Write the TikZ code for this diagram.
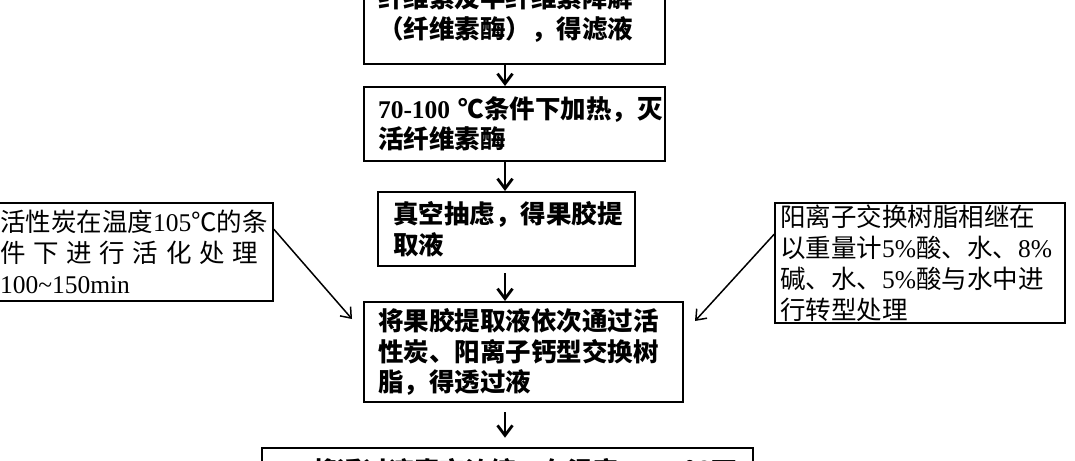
\documentclass[tikz,border=0pt]{standalone}
\usepackage{fontspec}
\setmainfont{Liberation Serif}
\newfontfamily\cjk{Noto Sans CJK SC}
\usetikzlibrary{arrows.meta}
\begin{document}
\begin{tikzpicture}[x=1pt,y=-1pt,
  mainbox/.style={draw, line width=2pt, font=\cjk\bfseries\fontsize{25.5}{30.5}\selectfont, align=left, inner ysep=0pt},
  sidebox/.style={draw, line width=1.6pt, font=\cjk\fontsize{25.5}{31}\selectfont, align=left, inner ysep=0pt},
  flow/.style={line width=2.8pt, -{Straight Barb[length=10pt,width=15pt,line width=2.8pt]}},
  feed/.style={line width=1.5pt, -{Straight Barb[length=9pt,width=14pt,line width=1.5pt]}}]
\useasboundingbox (0,0) rectangle (1075,460);
\clip (0,0) rectangle (1075,460);
\fill[white] (0,0) rectangle (1075,460);

\node[mainbox, minimum width=301pt, minimum height=100pt, inner xsep=14pt, text width=273pt] (b1) at (514.5,14)
  {\mbox{纤维素及半纤维素降解}\\\mbox{（纤维素酶），得滤液}};
\node[mainbox, minimum width=301pt, minimum height=74pt, inner xsep=14pt, text width=273pt] (b2) at (514.5,124)
  {\mbox{{\rmfamily 70-100} ℃条件下加热，灭}\\活纤维素酶};
\node[mainbox, minimum width=257pt, minimum height=74pt, inner xsep=15pt, text width=227pt] (b3) at (506.5,229)
  {\mbox{真空抽虑，得果胶提}\\取液};
\node[mainbox, minimum width=319pt, minimum height=100pt, inner xsep=14pt, text width=291pt] (b4) at (523.5,352)
  {\mbox{将果胶提取液依次通过活}\\\mbox{性炭、阳离子钙型交换树}\\\mbox{脂，得透过液}};
\node[mainbox, line width=2.6pt, minimum width=491pt, minimum height=46pt, inner xsep=50pt, text width=391pt] (b5) at (507.5,471)
  {\mbox{将透过液真空浓缩，在温度{\rmfamily 50-60} ℃下}};

\node[sidebox, minimum width=285pt, minimum height=98pt, inner xsep=12pt, text width=261pt] (L) at (130.5,252)
  {\mbox{活性炭在温度{\rmfamily 105}℃的条}\\
   \makebox[258pt][s]{件\hfill 下\hfill 进\hfill 行\hfill 活\hfill 化\hfill 处\hfill 理}\\
   {\rmfamily 100\textasciitilde150min}};
\node[sidebox, minimum width=290pt, minimum height=120pt, inner xsep=5pt, text width=280pt] (R) at (920,263)
  {\mbox{阳离子交换树脂相继在}\\\mbox{以重量计{\rmfamily 5\%}酸、水、{\rmfamily 8\%}}\\\mbox{碱、水、{\rmfamily 5\%}酸与水中进}\\行转型处理};

\coordinate (ax) at (505,0);
\draw[flow] (b1.south -| ax) -- (b2.north -| ax);
\draw[flow] (b2.south -| ax) -- (b3.north -| ax);
\draw[flow, shorten <=6pt] (b3.south -| ax) -- (b4.north -| ax);
\draw[flow, shorten <=9pt, shorten >=9pt] (b4.south -| ax) -- (b5.north -| ax);

\draw[feed] ([yshift=-27pt]L.north east) -- ([xshift=-11pt,yshift=-18pt]b4.north west);
\draw[feed] ([yshift=-32pt]R.north west) -- ([xshift=11pt,yshift=-20pt]b4.north east);
\end{tikzpicture}
\end{document}
